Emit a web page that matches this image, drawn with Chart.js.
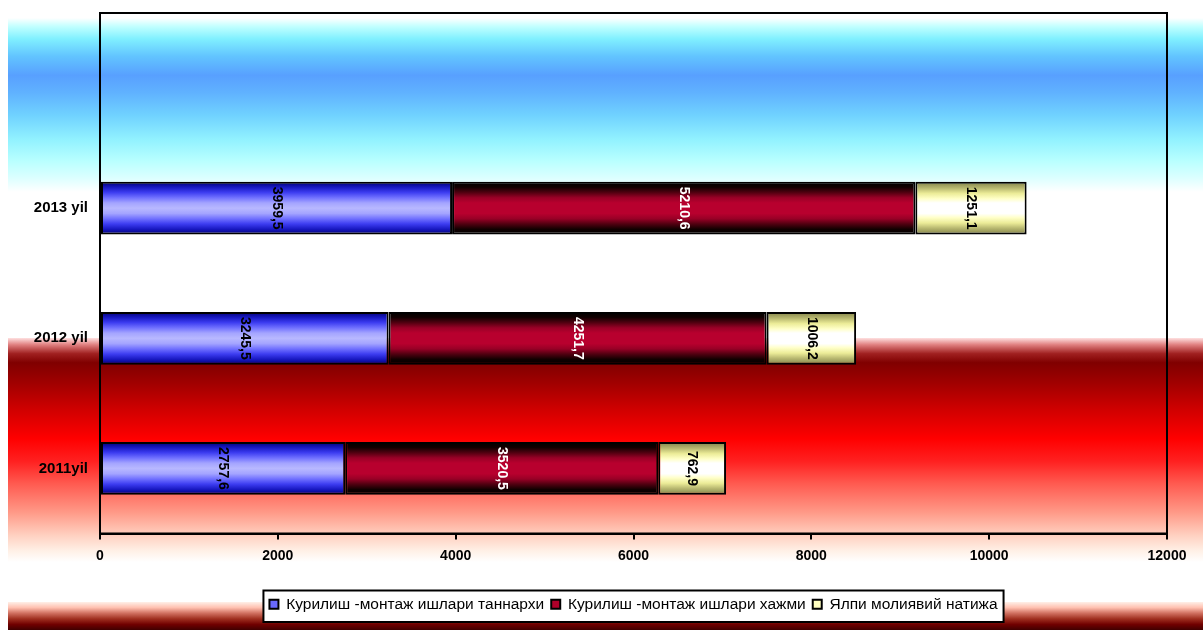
<!DOCTYPE html>
<html><head><meta charset="utf-8">
<script src="https://cdn.jsdelivr.net/npm/chart.js@4/dist/chart.umd.min.js"></script>
<style>html,body{margin:0;padding:0;background:#fff;overflow:hidden}#wrap{width:1203px;height:630px}</style>
</head><body><div id="wrap"><canvas id="c" width="1203" height="630"></canvas></div>
<script>
// ---- data ----
const categories = ['2013 yil', '2012 yil', '2011yil'];
const seriesNames = ['Курилиш -монтаж ишлари таннархи', 'Курилиш -монтаж ишлари хажми', 'Ялпи молиявий натижа'];
const costValues = [3959.5, 3245.5, 2757.6];
const volumeValues = [5210.6, 4251.7, 3520.5];
const resultValues = [1251.1, 1006.2, 762.9];
const xTicks = [0, 2000, 4000, 6000, 8000, 10000, 12000];

// ---- styles ----
const FONT = "'Liberation Sans', Arial, sans-serif";
const BAR_PCT = 0.405;
const blueStops = [[0,'#000070'],[0.1,'#1818c0'],[0.2,'#3c3cf0'],[0.3,'#7070ff'],[0.4,'#a4a4ff'],[0.5,'#b8b8ff'],[0.6,'#a4a4ff'],[0.7,'#7070ff'],[0.8,'#3c3cf0'],[0.9,'#1818c0'],[1,'#000070']];
const redStops = [[0,'#000000'],[0.1,'#100000'],[0.2,'#500010'],[0.3,'#980026'],[0.4,'#b8002e'],[0.6,'#b8002e'],[0.7,'#980026'],[0.8,'#500010'],[0.9,'#100000'],[1,'#000000']];
const yellowStops = [[0,'#808048'],[0.12,'#b8b870'],[0.22,'#ecec98'],[0.32,'#ffffc8'],[0.4,'#ffffff'],[0.6,'#ffffff'],[0.68,'#ffffc8'],[0.78,'#ecec98'],[0.88,'#b8b870'],[1,'#808048']];
const legendFills = ['#6a6aff', '#b0002a', '#ffffc0'];
const labelColors = ['#000000', '#ffffff', '#000000'];

const labels = [''].concat(categories);
function withBlank(arr) { return [null].concat(arr); }

function barFill(stops) {
  return function (ctx) {
    const chart = ctx.chart;
    const ys = chart.scales && chart.scales.y;
    if (!ys || ctx.type !== 'data' || !chart.chartArea) return stops[Math.floor(stops.length / 2)][1];
    const c = ys.getPixelForValue(ctx.dataIndex);
    const half = ys.height / ys.getLabels().length * BAR_PCT / 2;
    const g = chart.ctx.createLinearGradient(0, c - half, 0, c + half);
    stops.forEach(s => g.addColorStop(s[0], s[1]));
    return g;
  };
}

function fmt(v) { return v.toFixed(1).replace('.', ','); }

const bgPlugin = {
  id: 'bg',
  afterLayout(chart) {
    // centre the legend row under the plot area
    const lg = chart.legend, a = chart.chartArea;
    if (lg && a) { lg.left = a.left; lg.right = a.right; lg.width = a.right - a.left; }
  },
  beforeDraw(chart) {
    const ctx = chart.ctx, W = chart.width;
    ctx.save();
    ctx.fillStyle = '#ffffff';
    ctx.fillRect(0, 0, W, chart.height);
    function band(y0, y1, stops) {
      const g = ctx.createLinearGradient(0, y0, 0, y1);
      stops.forEach(s => g.addColorStop(s[0], s[1]));
      ctx.fillStyle = g;
      ctx.fillRect(8, y0, W - 8, y1 - y0);
    }
    band(18, 192, [[0,'#ffffff'],[0.05,'#c0ffff'],[0.12,'#80f0ff'],[0.22,'#62c4ff'],[0.33,'#58a0ff'],[0.43,'#60b2ff'],[0.56,'#70d2ff'],[0.7,'#92f2ff'],[0.82,'#b8ffff'],[0.92,'#dcffff'],[1,'#ffffff']]);
    band(338, 562, [[0,'#ffe0e0'],[0.03,'#e08080'],[0.07,'#a02020'],[0.11,'#800000'],[0.2,'#a00000'],[0.32,'#d00000'],[0.45,'#ff0000'],[0.55,'#ff2020'],[0.65,'#ff5a50'],[0.78,'#ff9a88'],[0.88,'#ffd0c0'],[0.95,'#fff0e6'],[1,'#ffffff']]);
    band(602, 630, [[0,'#fff0e8'],[0.2,'#ffc0b0'],[0.4,'#d07060'],[0.6,'#a03020'],[0.8,'#700000'],[1,'#400000']]);
    // legend frame (legend text is drawn afterwards by the legend itself)
    const lg = chart.legend;
    if (lg && lg.legendHitBoxes && lg.legendHitBoxes.length) {
      let l = Infinity, r = -Infinity;
      lg.legendHitBoxes.forEach(h => { l = Math.min(l, h.left); r = Math.max(r, h.left + h.width); });
      ctx.fillStyle = '#ffffff';
      ctx.fillRect(l - 6, lg.top + 1, r - l + 12, lg.height - 1);
      ctx.strokeStyle = '#000000';
      ctx.lineWidth = 2;
      ctx.strokeRect(l - 6, lg.top + 1, r - l + 12, lg.height - 1);
    }
    ctx.restore();
  },
  afterDatasetsDraw(chart) {
    const ctx = chart.ctx, a = chart.chartArea;
    ctx.save();
    chart.data.datasets.forEach((ds, di) => {
      const meta = chart.getDatasetMeta(di);
      meta.data.forEach((el, i) => {
        const v = ds.data[i];
        if (v == null) return;
        const cx = (el.x + el.base) / 2, cy = el.y;
        ctx.save();
        ctx.translate(cx, cy);
        ctx.rotate(Math.PI / 2);
        ctx.font = 'bold 14px ' + FONT;
        ctx.fillStyle = labelColors[di];
        ctx.textAlign = 'center';
        ctx.textBaseline = 'middle';
        ctx.fillText(fmt(v), 0, 0);
        ctx.restore();
      });
    });
    ctx.strokeStyle = '#000000';
    ctx.lineWidth = 2;
    ctx.strokeRect(a.left, a.top, a.right - a.left, a.bottom - a.top);
    ctx.restore();
  }
};

new Chart(document.getElementById('c'), {
  type: 'bar',
  data: {
    labels: labels,
    datasets: [
      { label: seriesNames[0], data: withBlank(costValues), backgroundColor: barFill(blueStops) },
      { label: seriesNames[1], data: withBlank(volumeValues), backgroundColor: barFill(redStops) },
      { label: seriesNames[2], data: withBlank(resultValues), backgroundColor: barFill(yellowStops) }
    ]
  },
  options: {
    indexAxis: 'y',
    responsive: false,
    animation: false,
    devicePixelRatio: 1,
    datasets: { bar: { borderColor: '#000000', borderWidth: 2, borderSkipped: false, categoryPercentage: 1, barPercentage: BAR_PCT } },
    layout: { padding: { top: 13, left: 8, right: 36, bottom: 8 } },
    plugins: {
      tooltip: { enabled: false },
      legend: {
        position: 'bottom',
        labels: {
          font: { family: FONT, size: 15.5 },
          color: '#000000',
          boxWidth: 9, boxHeight: 9, padding: 7,
          generateLabels: (chart) => chart.data.datasets.map((ds, i) => ({
            text: ds.label, fillStyle: legendFills[i], strokeStyle: '#000000', lineWidth: 2,
            hidden: false, datasetIndex: i, fontColor: '#000000'
          }))
        }
      }
    },
    scales: {
      x: {
        stacked: true, min: 0, max: 12000,
        afterBuildTicks: (s) => { s.ticks = xTicks.map(v => ({ value: v })); },
        afterFit: (s) => { s.height = 56; },
        ticks: { font: { family: FONT, size: 14, weight: 'bold' }, color: '#000000', padding: 8, maxRotation: 0, callback: (v) => String(v) },
        grid: { display: true, drawOnChartArea: false, drawTicks: true, tickLength: 6, color: '#000000', lineWidth: 2 },
        border: { display: true, color: '#000000', width: 2 }
      },
      y: {
        stacked: true,
        afterFit: (s) => { s.width = 92; s.paddingTop = 0; s.paddingBottom = 0; },
        ticks: { font: { family: FONT, size: 15, weight: 'bold' }, color: '#000000', padding: 12 },
        grid: { display: false, drawTicks: false },
        border: { display: true, color: '#000000', width: 2 }
      }
    }
  },
  plugins: [bgPlugin]
});
</script>
</body></html>
